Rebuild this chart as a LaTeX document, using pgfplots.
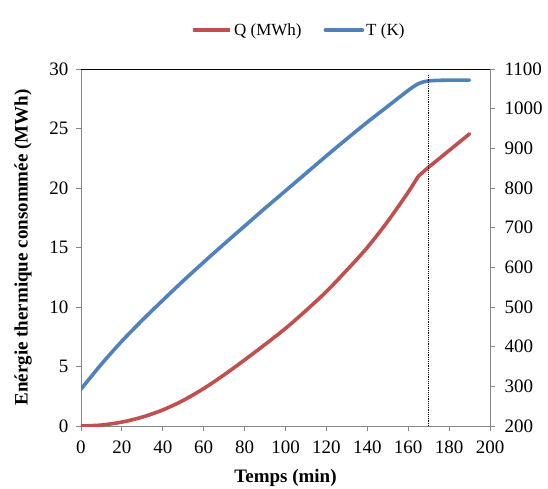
\documentclass[border=0pt]{standalone}
\usepackage{pgfplots}
\pgfplotsset{compat=1.18}
\usepackage{fontspec}
\setmainfont{Liberation Serif}
\definecolor{qred}{HTML}{C0504D}
\definecolor{tblue}{HTML}{4F81BD}
\definecolor{axgray}{HTML}{868686}

\begin{document}
\begin{tikzpicture}
\pgfplotsset{
  every axis/.append style={
    scale only axis, width=409pt, height=357pt,
    at={(0,0)}, anchor=south west,
    xmin=0, xmax=200,
    tick align=outside, major tick length=5pt,
    tick style={axgray, line width=0.8pt},
    axis line style={axgray, line width=0.8pt},
    tick label style={font=\fontsize{19}{21}\selectfont},
    /pgf/number format/assume math mode=true,
    /pgf/number format/1000 sep={},
  }
}
\begin{axis}[
  axis x line*=bottom, axis y line*=left,
  ymin=0, ymax=30, ytick={0,5,...,30},
  xtick={0,20,...,200},
  xticklabel style={yshift=-6pt},
  yticklabel style={xshift=-4pt},
  xlabel={\textbf{Temps (min)}},
  ylabel={\textbf{Enérgie thermique consommée (MWh)}},
  every axis x label/.style={at={([yshift=-52pt]axis description cs:0.5,0)}, anchor=center, font=\fontsize{19}{21}\selectfont},
  every axis y label/.style={at={([xshift=-58pt]axis description cs:0,0.5)}, anchor=center, rotate=90, font=\fontsize{19}{21}\selectfont},
]
\addplot[qred, line width=3.6pt, line join=round, line cap=round, smooth, tension=0.5] coordinates {
(0,0) (10,0.08) (20,0.33) (30,0.75) (40,1.35) (50,2.15) (60,3.15) (70,4.3)
(80,5.55) (90,6.85) (100,8.2) (110,9.7) (120,11.3) (130,13.1) (140,15.0)
(150,17.2) (160,19.65) (165,21.0)
};
\addplot[qred, line width=3.6pt, line join=round, line cap=round] coordinates {
(165,21.0) (170,21.75) (180,23.15) (190,24.55)
};
\draw[black, line width=0.6pt] (rel axis cs:0,1) -- (rel axis cs:1,1);
\end{axis}
\begin{axis}[
  axis y line*=right, axis x line=none,
  ymin=200, ymax=1100, ytick={200,300,...,1100},
  yticklabel style={xshift=6pt},
  legend style={at={(axis description cs:0.533,1.109)}, anchor=center, draw=none, fill=none,
    legend columns=2, font=\fontsize{17}{19}\selectfont,
    /tikz/every even column/.append style={column sep=20pt}},
  legend image code/.code={\draw[#1] (0pt,0pt) -- (37pt,0pt);},
]
\addlegendimage{qred, line width=3.6pt}
\addlegendentry{Q (MWh)}
\addplot[tblue, line width=3.6pt, line join=round, line cap=round, smooth, tension=0.5] coordinates {
(0,293) (10,356) (20,414) (30,467) (40,517) (50,566) (60,613) (70,659)
(80,704) (90,749) (100,793) (110,837) (120,881) (130,924) (140,966)
(150,1006) (160,1046) (165,1063) (170,1070) (180,1072) (190,1072)
};
\addlegendentry{T (K)}
\addplot[black, line width=1.2pt, densely dotted, forget plot] coordinates {(170,200) (170,1085)};
\end{axis}
\pgfresetboundingbox
\path (-81pt,-62pt) rectangle (467pt,426pt);
\end{tikzpicture}
\end{document}
